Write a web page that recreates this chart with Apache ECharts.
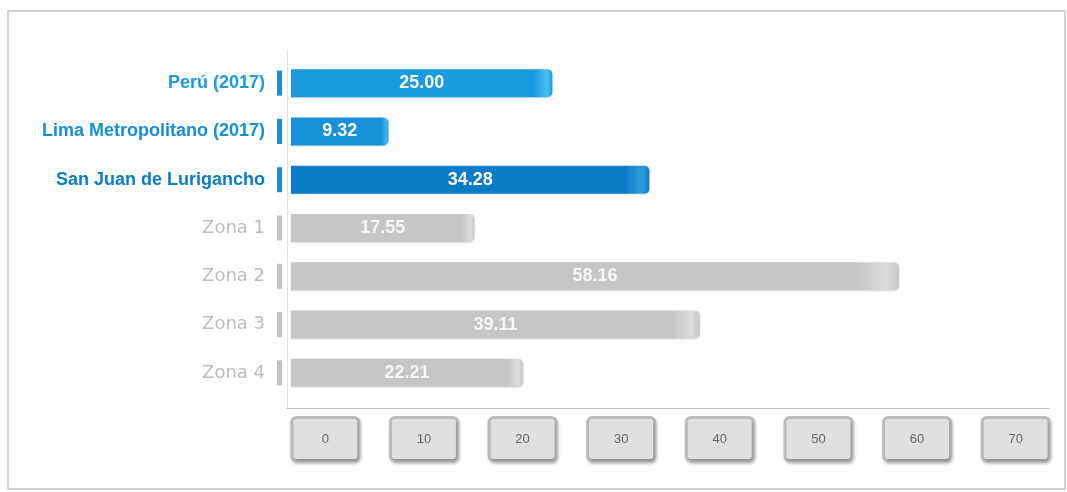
<!DOCTYPE html>
<html>
<head>
<meta charset="utf-8">
<script src="https://cdn.jsdelivr.net/npm/echarts@6/dist/echarts.min.js"></script>
<style>
  html, body { margin: 0; padding: 0; background: #ffffff; }
  #chart { width: 1067px; height: 492px; }
</style>
</head>
<body>
<div id="chart"></div>
<script>
// categories, top to bottom
const categories = [
  "Perú (2017)",
  "Lima Metropolitano (2017)",
  "San Juan de Lurigancho",
  "Zona 1",
  "Zona 2",
  "Zona 3",
  "Zona 4"
];
const values = [25.0, 9.32, 34.28, 17.55, 58.16, 39.11, 22.21];
const tickLabels = ["0", "10", "20", "30", "40", "50", "60", "70"];

// bar colours (base, highlight at the rounded end)
const barBase = ["#1a9be0", "#1791d9", "#0a7bc6", "#c6c6c6", "#c6c6c6", "#c6c6c6", "#c6c6c6"];
const barTip = ["#4cc0f2", "#45b5ec", "#2f9bdc", "#dcdcdc", "#dcdcdc", "#dcdcdc", "#dcdcdc"];

const chart = echarts.init(document.getElementById("chart"));

function barColor(i) {
  return new echarts.graphic.LinearGradient(0, 0, 1, 0, [
    { offset: 0, color: barBase[i] },
    { offset: 0.93, color: barBase[i] },
    { offset: 0.98, color: barTip[i] },
    { offset: 1, color: barBase[i] }
  ]);
}

const labelFont = "Liberation Sans, Arial, sans-serif";

const option = {
  backgroundColor: "#ffffff",
  animation: false,
  graphic: [
    {
      type: "rect",
      shape: { x: 8, y: 11, width: 1057, height: 478 },
      style: { fill: "none", stroke: "#d2d2d2", lineWidth: 2 },
      silent: true
    }
  ],
  grid: [
    // bars
    { left: 291, right: 18, top: 59, bottom: 95 },
    // axis lines
    { left: 287, right: 18, top: 50, bottom: 84 },
    // boxed tick labels
    { left: 276, right: 2, top: 50, bottom: 84 }
  ],
  xAxis: [
    {
      gridIndex: 0,
      type: "value",
      min: 0,
      max: 72.5,
      show: false
    },
    {
      gridIndex: 1,
      type: "value",
      min: 0,
      max: 1,
      axisLine: { show: true, lineStyle: { color: "#c4c4c4", width: 1 } },
      axisTick: { show: false },
      axisLabel: { show: false },
      splitLine: { show: false }
    },
    {
      gridIndex: 2,
      type: "category",
      data: tickLabels,
      boundaryGap: true,
      axisLine: { show: false },
      axisTick: { show: false },
      splitLine: { show: false },
      axisLabel: {
        margin: 11,
        interval: 0,
        color: "#666666",
        fontFamily: labelFont,
        fontSize: 13,
        width: 64,
        height: 40,
        lineHeight: 40,
        align: "center",
        verticalAlign: "top",
        backgroundColor: "#e0e0e0",
        borderColor: "#bdbdbd",
        borderWidth: 3,
        borderRadius: 3,
        shadowColor: "rgba(0,0,0,0.25)",
        shadowBlur: 3,
        shadowOffsetX: 1,
        shadowOffsetY: 2
      }
    }
  ],
  yAxis: [
    {
      gridIndex: 0,
      type: "category",
      data: categories,
      inverse: true,
      axisLine: { show: false },
      axisTick: { show: false },
      splitLine: { show: false },
      axisLabel: {
        margin: 9,
        interval: 0,
        formatter: function (value, index) {
          if (index < 3) {
            return "{b" + index + "|" + value + "}{s|}{mb|}";
          }
          return "{g|" + value + "}{s|}{mg|}";
        },
        rich: {
          b0: { color: "#1a9be0", fontWeight: "bold", fontSize: 18, fontFamily: labelFont },
          b1: { color: "#1590d8", fontWeight: "bold", fontSize: 18, fontFamily: labelFont },
          b2: { color: "#0b7cc6", fontWeight: "bold", fontSize: 18, fontFamily: labelFont },
          g: { color: "#bcbcbc", fontSize: 18, fontFamily: "DejaVu Sans, sans-serif" },
          s: { width: 12 },
          mb: { width: 5, height: 25, backgroundColor: "#1a8fd6" },
          mg: { width: 5, height: 25, backgroundColor: "#c2c2c2" }
        }
      }
    },
    {
      gridIndex: 1,
      type: "value",
      min: 0,
      max: 1,
      axisLine: { show: true, lineStyle: { color: "#e0e0e0", width: 1 } },
      axisTick: { show: false },
      axisLabel: { show: false },
      splitLine: { show: false }
    },
    {
      gridIndex: 2,
      type: "value",
      show: false
    }
  ],
  series: [
    {
      type: "bar",
      xAxisIndex: 0,
      yAxisIndex: 0,
      barWidth: 28,
      data: values.map(function (v, i) {
        return {
          value: v,
          itemStyle: {
            color: barColor(i),
            borderRadius: [0, 5, 5, 0],
            shadowColor: "rgba(0,0,0,0.12)",
            shadowBlur: 2,
            shadowOffsetY: 1
          },
          label: { color: i < 3 ? "#ffffff" : "#f6f6f6" }
        };
      }),
      label: {
        show: true,
        position: "inside",
        fontWeight: "bold",
        fontSize: 18,
        fontFamily: labelFont,
        formatter: function (p) {
          return p.value.toFixed(2);
        }
      }
    }
  ]
};

chart.setOption(option);
</script>
</body>
</html>
